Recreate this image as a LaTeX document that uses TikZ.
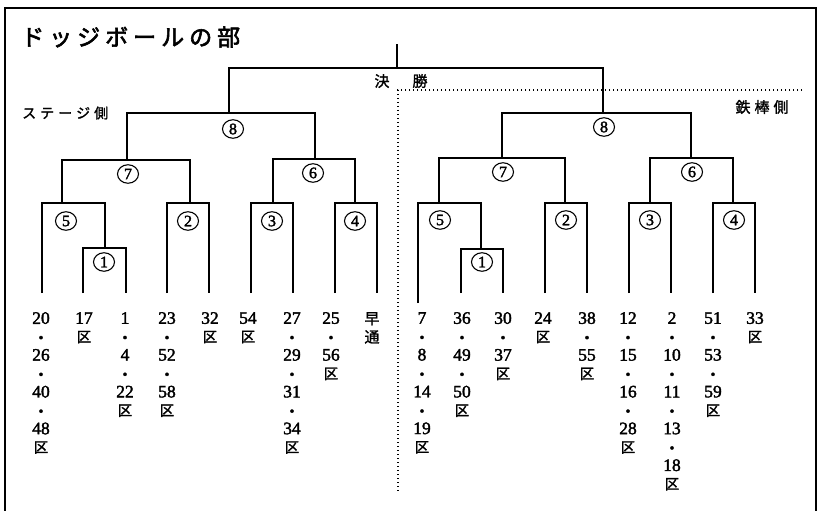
\documentclass[tikz,border=0pt]{standalone}
\usepackage{fontspec}
\usetikzlibrary{shapes.geometric}
\newfontfamily\jp[FakeBold=1.5]{Noto Sans CJK JP}
\newfontfamily\jpb[FakeBold=2.5]{Noto Sans CJK JP}
\newfontfamily\numf[FakeBold=2]{Liberation Serif}
\newcommand\dt{{\fontsize{14}{14}\selectfont\textbullet}}
\newcommand\ku{{\jp\fontsize{14.5}{14.5}\selectfont 区}}
\newcommand\jc[1]{{\jp\fontsize{15}{15}\selectfont #1}}
\begin{document}
\begin{tikzpicture}[x=1pt,y=-1pt,
  br/.style={line width=1.2pt},
  brk/.style={line width=1.8pt},
  frame/.style={line width=1.6pt},
  divider/.style={line width=1.2pt,dash pattern=on 1.3pt off 2.7pt},
  cnum/.style={ellipse,draw,line width=1.1pt,inner sep=0pt,minimum width=21pt,minimum height=18.5pt,font=\numf\fontsize{16}{16}\selectfont},
  leaf/.style={anchor=north,inner sep=0pt,align=center,font=\numf\fontsize{17.5}{18.4}\selectfont},
  lbl/.style={inner sep=0pt}]
\useasboundingbox (0,0) rectangle (819,511);
\fill[white] (0,0) rectangle (819,511);
% frame
\coordinate (fbl) at (5,511); \coordinate (ftl) at (5,8);
\coordinate (ftr) at (816,8); \coordinate (fbr) at (816,511);
\draw[frame] (fbl) -- (ftl) -- (ftr) -- (fbr);
% title and side labels
\node[lbl,anchor=west] (title) at (21,37) {\jpb\fontsize{23}{23}\selectfont ド\kern5pt ッ\kern5pt ジ\kern5pt ボ\kern5pt ー\kern5pt ル\kern5pt の\kern5pt 部};
\node[lbl,anchor=west] (stage) at (22,113) {\jp\fontsize{14}{14}\selectfont ス\kern4pt テ\kern4pt ー\kern4pt ジ\kern4pt 側};
\node[lbl] (tetsu) at (762,107) {\jp\fontsize{15}{15}\selectfont 鉄\kern4pt 棒\kern4pt 側};
\node[lbl] (kessho) at (401,81) {\jp\fontsize{15}{15}\selectfont 決\kern23pt 勝};
% divider
\coordinate (dvr) at (802,90); \coordinate (dvc) at (398,90); \coordinate (dvb) at (398,493);
\draw[divider] (dvr) -- (dvc) -- (dvb);
% leaf tops
\coordinate (la) at (42,293); \coordinate (lb) at (83,293); \coordinate (lc) at (126,293);
\coordinate (ld) at (167,293); \coordinate (le) at (209,293); \coordinate (lf) at (251,293);
\coordinate (lg) at (293,293); \coordinate (lh) at (335,293); \coordinate (li) at (377,293);
\coordinate (ra) at (418,303); \coordinate (rb) at (461,293); \coordinate (rc) at (503,293);
\coordinate (rd) at (545,293); \coordinate (re) at (587,293); \coordinate (rf) at (629,293);
\coordinate (rg) at (671,293); \coordinate (rh) at (713,293); \coordinate (ri) at (755,293);
% junctions
\coordinate (p1L) at (105,248); \coordinate (p5L) at (62,203); \coordinate (p2L) at (190,203);
\coordinate (p7L) at (127,160); \coordinate (p3L) at (273,203); \coordinate (p4L) at (355,203);
\coordinate (p6L) at (315,159); \coordinate (p8L) at (229,113);
\coordinate (p1R) at (481,249); \coordinate (p5R) at (439,203); \coordinate (p2R) at (565,203);
\coordinate (p7R) at (502,158); \coordinate (p3R) at (650,203); \coordinate (p4R) at (733,203);
\coordinate (p6R) at (691,158); \coordinate (p8R) at (603,113);
\coordinate (pF) at (397,68); \coordinate (top) at (397,44);
% brackets left
\draw[br] (lb) |- (p1L) -| (lc);
\draw[br] (la) |- (p5L) -| (p1L);
\draw[br] (ld) |- (p2L) -| (le);
\draw[br] (p5L) |- (p7L) -| (p2L);
\draw[br] (lf) |- (p3L) -| (lg);
\draw[br] (lh) |- (p4L) -| (li);
\draw[br] (p3L) |- (p6L) -| (p4L);
\draw[brk] (p7L) |- (p8L) -| (p6L);
% brackets right
\draw[br] (rb) |- (p1R) -| (rc);
\draw[br] (ra) |- (p5R) -| (p1R);
\draw[br] (rd) |- (p2R) -| (re);
\draw[br] (p5R) |- (p7R) -| (p2R);
\draw[br] (rf) |- (p3R) -| (rg);
\draw[br] (rh) |- (p4R) -| (ri);
\draw[br] (p3R) |- (p6R) -| (p4R);
\draw[br] (p7R) |- (p8R) -| (p6R);
% final
\draw[brk] (p8L) |- (pF) -| (p8R);
\draw[br] (pF) -- (top);
% circled round numbers
\node[cnum] (n8L) at (233,129) {8};
\node[cnum] (n7L) at (128,174) {7};
\node[cnum] (n6L) at (313,173) {6};
\node[cnum] (n5L) at (66,221) {5};
\node[cnum] (n1L) at (104,262) {1};
\node[cnum] (n2L) at (188,221) {2};
\node[cnum] (n3L) at (272,221) {3};
\node[cnum] (n4L) at (355,221) {4};
\node[cnum] (n8R) at (604,127) {8};
\node[cnum] (n7R) at (503,172) {7};
\node[cnum] (n6R) at (692,172) {6};
\node[cnum] (n5R) at (440,220) {5};
\node[cnum] (n1R) at (482,262) {1};
\node[cnum] (n2R) at (566,220) {2};
\node[cnum] (n3R) at (650,220) {3};
\node[cnum] (n4R) at (734,220) {4};
% team columns
\node[leaf] (c1) at (41,312) {20\\\dt\\26\\\dt\\40\\\dt\\48\\\ku};
\node[leaf] (c2) at (84,312) {17\\\ku};
\node[leaf] (c3) at (125,312) {1\\\dt\\4\\\dt\\22\\\ku};
\node[leaf] (c4) at (167,312) {23\\\dt\\52\\\dt\\58\\\ku};
\node[leaf] (c5) at (210,312) {32\\\ku};
\node[leaf] (c6) at (248,312) {54\\\ku};
\node[leaf] (c7) at (292,312) {27\\\dt\\29\\\dt\\31\\\dt\\34\\\ku};
\node[leaf] (c8) at (331,312) {25\\\dt\\56\\\ku};
\node[leaf] (c9) at (372,312) {\jc{早}\\\jc{通}};
\node[leaf] (d1) at (422,312) {7\\\dt\\8\\\dt\\14\\\dt\\19\\\ku};
\node[leaf] (d2) at (462,312) {36\\\dt\\49\\\dt\\50\\\ku};
\node[leaf] (d3) at (503,312) {30\\\dt\\37\\\ku};
\node[leaf] (d4) at (543,312) {24\\\ku};
\node[leaf] (d5) at (587,312) {38\\\dt\\55\\\ku};
\node[leaf] (d6) at (628,312) {12\\\dt\\15\\\dt\\16\\\dt\\28\\\ku};
\node[leaf] (d7) at (672,312) {2\\\dt\\10\\\dt\\11\\\dt\\13\\\dt\\18\\\ku};
\node[leaf] (d8) at (713,312) {51\\\dt\\53\\\dt\\59\\\ku};
\node[leaf] (d9) at (755,312) {33\\\ku};
\end{tikzpicture}
\end{document}
